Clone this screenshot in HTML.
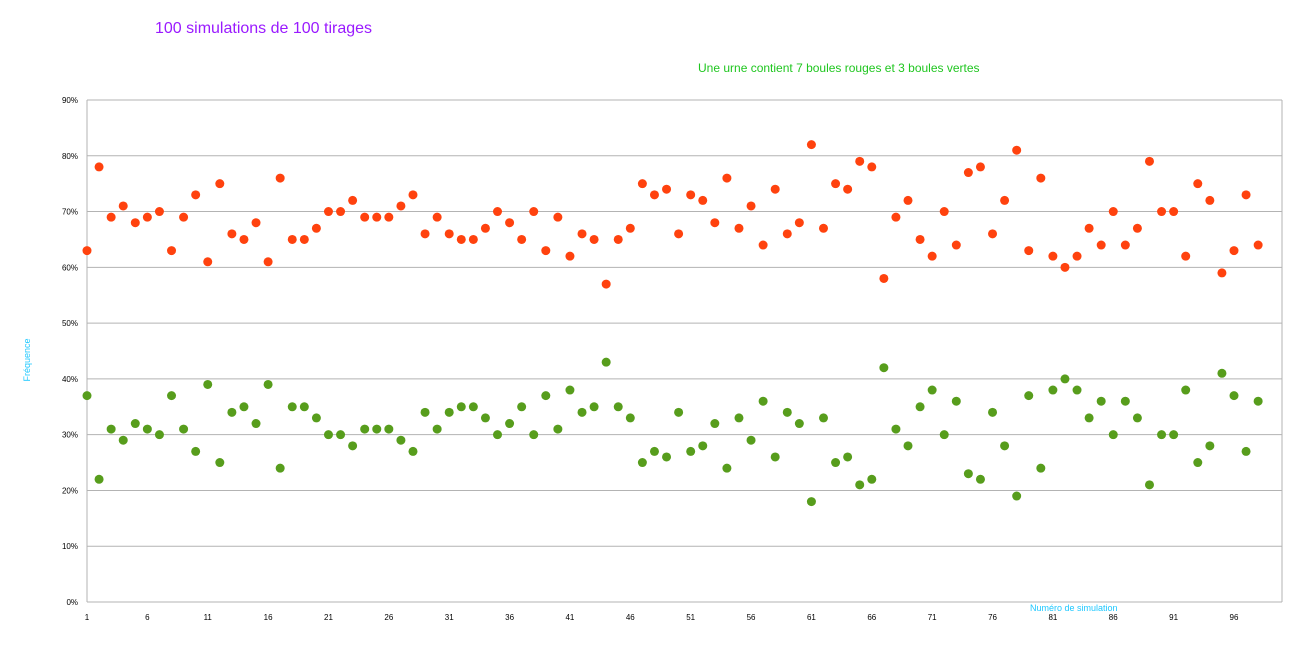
<!DOCTYPE html>
<html><head><meta charset="utf-8"><style>
html,body{margin:0;padding:0;background:#fff;}
svg{display:block;font-family:"Liberation Sans",sans-serif;}
</style></head><body>
<svg id="c" width="1308" height="668" xmlns="http://www.w3.org/2000/svg">
<rect width="1308" height="668" fill="#fff"/>
<text x="155" y="33" font-size="16" fill="#9a1aff">100 simulations de 100 tirages</text>
<text x="698" y="72" font-size="12" fill="#1fc61f">Une urne contient 7 boules rouges et 3 boules vertes</text>
<text transform="translate(30,360) rotate(-90)" font-size="9" fill="#1ec8ff" text-anchor="middle">Fréquence</text>
<text x="1030" y="611" font-size="9" fill="#1ec8ff">Numéro de simulation</text>
<g id="g"></g>
</svg>
<script>
var red=[63,78,69,71,68,69,70,63,69,73,61,75,66,65,68,61,76,65,65,67,70,70,72,69,69,69,71,73,66,69,66,65,65,67,70,68,65,70,63,69,62,66,65,57,65,67,75,73,74,66,73,72,68,76,67,71,64,74,66,68,82,67,75,74,79,78,58,69,72,65,62,70,64,77,78,66,72,81,63,76,62,60,62,67,64,70,64,67,79,70,70,62,75,72,59,63,73,64];
var L=87,R=1282,T=100,B=602,st=(1234-87)/95;
function y(v){return B-(B-T)*v/90;}
var s='';
for(var i=0;i<=9;i++){var yy=y(i*10);
s+='<line x1="'+L+'" x2="'+R+'" y1="'+yy+'" y2="'+yy+'" stroke="#b3b3b3" stroke-width="1"/>';
s+='<text x="78" y="'+(yy+3)+'" font-size="8" text-anchor="end" fill="#000">'+(i*10)+'%</text>';}
s+='<line x1="'+R+'" x2="'+R+'" y1="'+T+'" y2="'+B+'" stroke="#b3b3b3"/>';
s+='<line x1="'+L+'" x2="'+L+'" y1="'+T+'" y2="'+B+'" stroke="#b3b3b3"/>';
for(var k=1;k<=96;k+=5){var xx=L+(k-1)*st;
s+='<text x="'+xx+'" y="620" font-size="8" text-anchor="middle" fill="#000">'+k+'</text>';}
for(var i=0;i<red.length;i++){var xx=L+i*st;
s+='<circle cx="'+xx+'" cy="'+y(red[i])+'" r="4.5" fill="#ff420e"/>';
s+='<circle cx="'+xx+'" cy="'+y(100-red[i])+'" r="4.5" fill="#579d1c"/>';}
document.getElementById('g').innerHTML=s;
</script>
</body></html>
